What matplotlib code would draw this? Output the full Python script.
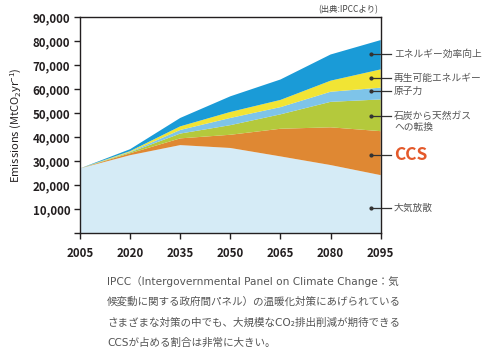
import matplotlib
matplotlib.use("Agg")
import matplotlib.pyplot as plt
from matplotlib.ticker import FuncFormatter
import numpy as np

plt.rcParams['font.family'] = ['Noto Sans CJK JP', 'DejaVu Sans']
plt.rcParams['mathtext.default'] = 'regular'

years = [2005, 2020, 2035, 2050, 2065, 2080, 2095]
atmosphere = [27000, 32500, 36700, 35500, 32000, 28400, 24200]
ccs = [0, 800, 2800, 5500, 11500, 15700, 18300]
coal_to_gas = [0, 400, 2000, 4000, 6000, 10600, 13200]
nuclear = [0, 200, 1500, 3000, 3000, 4200, 4900]
renewables = [0, 300, 1500, 2500, 3000, 4600, 7600]
efficiency = [0, 800, 3500, 6500, 8500, 10900, 12200]

series = [atmosphere, ccs, coal_to_gas, nuclear, renewables, efficiency]
colors = ['#d5ebf6', '#df8833', '#b4c93c', '#7ec4e9', '#f1e434', '#1a9bd7']

labels = ['大気放散', 'CCS', '石炭から天然ガス\nへの転換', '原子力', '再生可能エネルギー', 'エネルギー効率向上']
label_y = [10400, 32400, 48800, 59300, 64700, 74800]

xticks = [2005, 2020, 2035, 2050, 2065, 2080, 2095]
yticks = [10000, 20000, 30000, 40000, 50000, 60000, 70000, 80000, 90000]

fig = plt.figure(figsize=(4.91, 3.51), dpi=100)
ax = fig.add_axes([80/491, 1-233.3/351, 300.7/491, (233.3-17)/351])

ax.stackplot(years, *series, colors=colors, linewidth=0)
ax.set_xlim(2005, 2095)
ax.set_ylim(0, 90000)
ax.set_xticks(xticks)
ax.set_yticks([0] + yticks)
ax.yaxis.set_major_formatter(FuncFormatter(lambda v, p: '' if v == 0 else f'{int(v):,}'))

dark = '#231f20'
for s in ax.spines.values():
    s.set_color(dark)
    s.set_linewidth(1.0)
ax.tick_params(axis='both', direction='out', length=4, width=1.0, color=dark,
               labelcolor='#231f20', labelsize=8.3)
ax.tick_params(axis='y', pad=3)
ax.tick_params(axis='x', pad=6)
for t in ax.get_xticklabels() + ax.get_yticklabels():
    t.set_fontweight('bold')

ax.set_ylabel('Emissions (MtCO$_2$yr$^{-1}$)', fontsize=8, color='#231f20', labelpad=6)

px_per_unit = (233.3 - 17) / 90000.0

# right-side labels with leader lines
x_dot = 2005 + (371 - 80) / 300.7 * 90
x_end = 2005 + (391 - 80) / 300.7 * 90
x_txt = 2005 + (394 - 80) / 300.7 * 90
for lab, yv in zip(labels, label_y):
    ax.plot([x_dot, x_end], [yv, yv], color='#333333', lw=0.9, clip_on=False)
    ax.plot([x_dot], [yv], 'o', color='#333333', ms=2, clip_on=False)
    if lab == 'CCS':
        ax.text(x_txt, yv, lab, fontsize=12.5, fontweight='bold', color='#e4592a',
                va='center', ha='left', clip_on=False)
    else:
        lines = lab.split('\n')
        ax.text(x_txt, yv, lines[0], fontsize=7, color='#555555', va='center', ha='left', clip_on=False)
        if len(lines) > 1:
            ax.text(x_txt, yv - 11.3 / px_per_unit, lines[1], fontsize=7, color='#555555',
                    va='center', ha='left', clip_on=False)

fig.text(378/491, 1-10/351, '(出典:IPCCより)', fontsize=6, color='#444444', ha='right', va='center')

caption = ['IPCC（Intergovernmental Panel on Climate Change：気',
           '候変動に関する政府間パネル）の温暖化対策にあげられている',
           'さまざまな対策の中でも、大規模なCO₂排出削減が期待できる',
           'CCSが占める割合は非常に大きい。']
for i, line in enumerate(caption):
    fig.text(107/491, 1-(281 + i*20.7)/351, line, fontsize=7.6, color='#555555', ha='left', va='center',
             family=['DejaVu Sans', 'Noto Sans CJK JP'])

fig.savefig('out.png', dpi=100)
